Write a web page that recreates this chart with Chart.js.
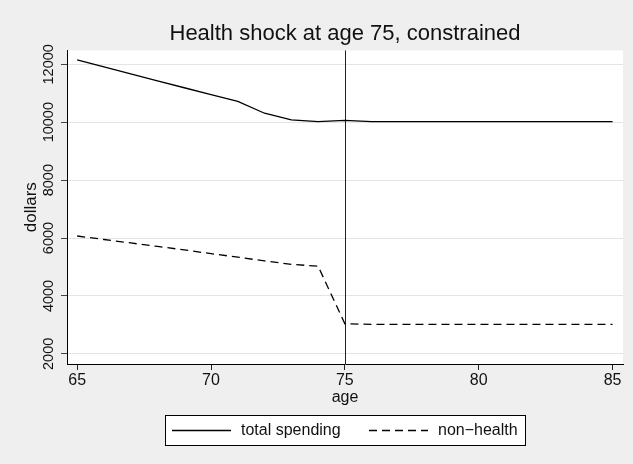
<!DOCTYPE html>
<html>
<head>
<meta charset="utf-8">
<script src="https://cdn.jsdelivr.net/npm/chart.js@4.4.1/dist/chart.umd.min.js"></script>
<style>
    body {
        margin: 0;
        background: #efefef;
    }
    .chart-box {
        width: 633px;
        height: 464px;
    }
</style>
</head>
<body>
<div class="chart-box">
    <canvas id="shockChart"></canvas>
</div>

<script>
    // values
    const ages = [65, 66, 67, 68, 69, 70, 71, 72, 73, 74, 75, 76, 77, 78, 79, 80, 81, 82, 83, 84, 85];
    const totalSpending = [12150, 11910, 11670, 11430, 11190, 10950, 10720, 10310, 10080, 10020, 10060,
                           10020, 10020, 10020, 10020, 10020, 10020, 10020, 10020, 10020, 10020];
    const nonHealth = [6070, 5950, 5830, 5710, 5590, 5460, 5340, 5210, 5090, 5030, 3040,
                       3020, 3020, 3020, 3020, 3020, 3020, 3020, 3020, 3020, 3020];
    const xTicks = [65, 70, 75, 80, 85];
    const yTicks = [2000, 4000, 6000, 8000, 10000, 12000];
    const shockAge = 75;

    Chart.defaults.font.family = '"Liberation Sans", Arial, sans-serif';
    Chart.defaults.color = '#111';

    // white plot region
    const plotBg = {
        id: 'plotBg',
        beforeDraw(chart) {
            const {ctx, chartArea} = chart;
            ctx.save();
            ctx.fillStyle = '#fff';
            ctx.fillRect(chartArea.left, chartArea.top, chartArea.right - chartArea.left, chartArea.bottom - chartArea.top);
            ctx.restore();
        }
    };

    // vertical line at the shock age
    const shockLine = {
        id: 'shockLine',
        beforeDatasetsDraw(chart) {
            const {ctx, chartArea, scales} = chart;
            const px = Math.round(scales.x.getPixelForValue(shockAge)) + 0.5;
            ctx.save();
            ctx.strokeStyle = '#222';
            ctx.lineWidth = 1;
            ctx.beginPath();
            ctx.moveTo(px, chartArea.top);
            ctx.lineTo(px, chartArea.bottom);
            ctx.stroke();
            ctx.restore();
        }
    };

    // stata style legend with a box round it
    const boxLegend = {
        id: 'boxLegend',
        afterDraw(chart) {
            const {ctx, chartArea} = chart;
            const mid = (chartArea.left + chartArea.right) / 2;
            const w = 360, h = 30, top = 415;
            const left = Math.round(mid - w / 2);
            ctx.save();
            ctx.fillStyle = '#fff';
            ctx.fillRect(left, top, w, h);
            ctx.strokeStyle = '#000';
            ctx.lineWidth = 1;
            ctx.strokeRect(left + 0.5, top + 0.5, w, h);
            const starts = [left + 7, left + 204];
            const y = top + 15.5;
            chart.data.datasets.forEach((ds, i) => {
                ctx.strokeStyle = ds.borderColor;
                ctx.lineWidth = ds.borderWidth;
                ctx.setLineDash(ds.borderDash || []);
                ctx.beginPath();
                ctx.moveTo(starts[i], y);
                ctx.lineTo(starts[i] + 59, y);
                ctx.stroke();
                ctx.setLineDash([]);
                ctx.fillStyle = '#111';
                ctx.font = '16px "Liberation Sans", Arial, sans-serif';
                ctx.textBaseline = 'middle';
                ctx.textAlign = 'left';
                ctx.fillText(ds.label, starts[i] + 69, y);
            });
            ctx.restore();
        }
    };

    const ctx = document.getElementById('shockChart').getContext('2d');
    const shockChart = new Chart(ctx, {
        type: 'line',
        data: {
            datasets: [{
                label: 'total spending',
                data: ages.map((a, i) => ({x: a, y: totalSpending[i]})),
                borderColor: '#000',
                borderWidth: 1.3,
                pointRadius: 0,
                tension: 0,
                fill: false
            }, {
                label: 'non\u2212health',
                data: ages.map((a, i) => ({x: a, y: nonHealth[i]})),
                borderColor: '#000',
                borderWidth: 1.3,
                borderDash: [8, 5],
                pointRadius: 0,
                tension: 0,
                fill: false
            }]
        },
        options: {
            responsive: true,
            maintainAspectRatio: false,
            animation: false,
            layout: {
                padding: {top: 21, left: 0, right: 10, bottom: 57}
            },
            scales: {
                x: {
                    type: 'linear',
                    min: 64.62,
                    max: 85.39,
                    afterBuildTicks: s => { s.ticks = xTicks.map(v => ({value: v})); },
                    afterFit: s => { s.height = 43; },
                    grid: {drawOnChartArea: false, tickLength: 6, tickColor: '#222'},
                    border: {color: '#000', width: 1},
                    ticks: {font: {size: 16}, color: '#111', padding: 1, maxRotation: 0, callback: v => String(v)},
                    title: {display: true, text: 'age', font: {size: 16}, color: '#111', padding: 0}
                },
                y: {
                    min: 1650,
                    max: 12480,
                    afterBuildTicks: s => { s.ticks = yTicks.map(v => ({value: v})); },
                    afterFit: s => { s.width = 67; },
                    grid: {color: '#e4e4e4', tickLength: 6, tickColor: '#444'},
                    border: {color: '#000', width: 1},
                    ticks: {font: {size: 14.5}, color: '#111', minRotation: 90, maxRotation: 90,
                            crossAlign: 'center', padding: -8, callback: v => String(v)},
                    title: {display: true, text: 'dollars', font: {size: 17}, color: '#111', padding: {top: 21, bottom: 0}}
                }
            },
            plugins: {
                legend: {display: false},
                tooltip: {enabled: false},
                title: {
                    display: true,
                    text: 'Health shock at age 75, constrained',
                    fullSize: false,
                    font: {size: 22, weight: 'normal'},
                    color: '#111',
                    padding: {top: 0, bottom: 3}
                }
            }
        },
        plugins: [plotBg, shockLine, boxLegend]
    });
</script>
</body>
</html>
